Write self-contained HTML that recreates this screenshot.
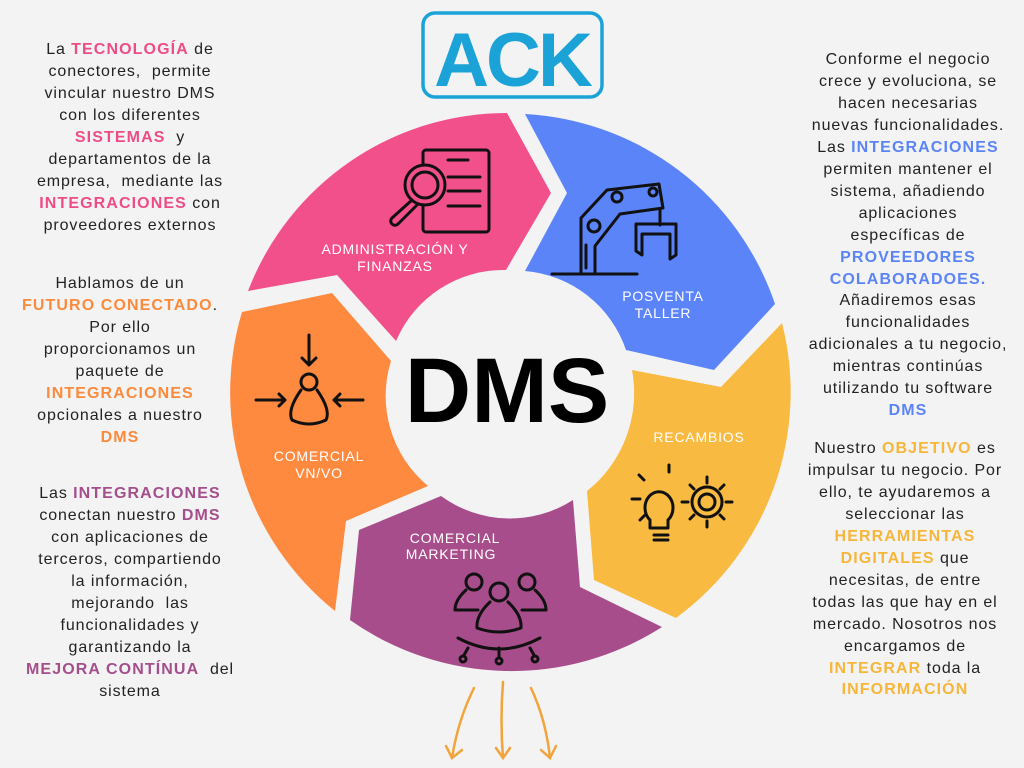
<!DOCTYPE html>
<html><head><meta charset="utf-8"><style>
html,body{margin:0;padding:0;background:#f3f3f3;}
body{width:1024px;height:768px;position:relative;overflow:hidden;font-family:"Liberation Sans",sans-serif;}
.t{position:absolute;text-align:center;font-size:16px;letter-spacing:0.9px;line-height:21.95px;color:#222;white-space:nowrap;}
.t b{letter-spacing:1.1px;}
.pk{color:#ec4d86}.or{color:#fa8a3c}.pu{color:#a44e8c}.bl{color:#5b84f5}.ye{color:#f5b63a}
svg{position:absolute;left:0;top:0;}
</style></head><body>
<svg width="1024" height="768" viewBox="0 0 1024 768">
<g>
<path d="M248,291 A277,277 0 0 1 507,113 L551,193 L506,270 A117,117 0 0 0 396,341 L337,275 Z" fill="#f2508a"/>
<path d="M525,114 A280,280 0 0 1 775,304 L714,370 L626,350 A117,117 0 0 0 525,271 L567,193 Z" fill="#5c84f9"/>
<path d="M721,387 L782,323 A280,280 0 0 1 676,618 L594,580 L587,491 A125,125 0 0 0 632,370 Z" fill="#f8ba40"/>
<path d="M359,530 L441,496 A117,117 0 0 0 573,500 L580,587 L662,627 A280,280 0 0 1 350,620 Z" fill="#a84d8b"/>
<path d="M242,312 L332,293 L391,361 A117,117 0 0 0 428,486 L346,521 L335,611 A280,280 0 0 1 242,312 Z" fill="#fd8a3e"/>
</g>
<text x="507" y="422" text-anchor="middle" font-family="Liberation Sans" font-weight="bold" font-size="92" fill="#000">DMS</text>
<g fill="#fff" font-family="Liberation Sans" font-size="14" text-anchor="middle" letter-spacing="0.8">
<text x="395" y="254">ADMINISTRACIÓN Y</text><text x="395" y="271">FINANZAS</text>
<text x="663" y="301">POSVENTA</text><text x="663" y="318">TALLER</text>
<text x="699" y="442">RECAMBIOS</text>
<text x="319" y="461">COMERCIAL</text><text x="319" y="478">VN/VO</text>
<text x="455" y="543">COMERCIAL</text><text x="451" y="559">MARKETING</text>
</g>
<!-- logo -->
<rect x="423" y="13" width="179" height="84" rx="12" fill="none" stroke="#1ba3d8" stroke-width="3.5"/>
<text x="512" y="86" text-anchor="middle" font-family="Liberation Sans" font-weight="bold" font-size="76" fill="#1ba3d8" letter-spacing="-3">ACK</text>
<!-- icons -->
<g fill="none" stroke="#111" stroke-width="3" stroke-linecap="round" stroke-linejoin="round">
<rect x="423" y="150" width="66" height="82" rx="3"/>
<line x1="448" y1="160" x2="468" y2="160"/><line x1="448" y1="177" x2="480" y2="177"/><line x1="448" y1="191" x2="480" y2="191"/><line x1="448" y1="206" x2="480" y2="206"/>
<circle cx="425" cy="185" r="20" fill="#f2508a"/><circle cx="425" cy="185" r="13"/>
<path d="M412,200 L392,218 a4,4 0 0 0 6,6 L417,205"/>
<line x1="552" y1="274" x2="637" y2="274"/>
<path d="M581,273 V218 L607,190 L659,184 L663,208 L620,214 L595,246 V273"/>
<circle cx="594" cy="226" r="6"/><circle cx="617" cy="197" r="5"/><circle cx="653" cy="192" r="4"/>
<path d="M660,210 V225 M636,224 H676 V255 L670,259 V234 H642 V255 L636,251 Z"/>
<line x1="586" y1="245" x2="586" y2="268"/>
<circle cx="309" cy="382" r="8"/>
<path d="M301,390 Q287,410 292,420 Q309,428 326,420 Q331,410 317,390"/>
<path d="M309,335 V365 M302,358 L309,365 L316,358"/>
<path d="M256,400 H285 M279,394 L285,400 L279,406"/>
<path d="M363,400 H334 M340,394 L334,400 L340,406"/>
<path d="M668,520 a14,16 0 1 0 -18,0 v8 h18 Z"/>
<path d="M654,535 h14 M654,540 h14"/>
<path d="M669,472 v-7 M644,480 l-5,-5 M640,499 h-8 M645,515 l-5,5"/>
<circle cx="707" cy="502" r="15"/><circle cx="707" cy="502" r="8"/>
<path d="M707,483 v-6 M707,521 v6 M688,502 h-6 M726,502 h6 M694,489 l-4,-4 M720,515 l4,4 M720,489 l4,-4 M694,515 l-4,4"/>
<circle cx="474" cy="582" r="8"/><circle cx="527" cy="582" r="8"/><circle cx="499" cy="592" r="9"/>
<path d="M466,590 Q455,600 455,610 H478 M535,590 Q546,600 546,610 H522"/>
<path d="M490,602 Q476,615 477,628 Q499,636 521,628 Q522,615 508,602"/>
<path d="M458,638 Q499,660 540,638"/>
<path d="M468,648 L464,655 M499,648 V657 M530,648 L534,655"/>
<circle cx="463" cy="659" r="3"/><circle cx="499" cy="661" r="3"/><circle cx="535" cy="659" r="3"/>
</g>
<g fill="none" stroke="#f0a43a" stroke-width="2.5" stroke-linecap="round">
<path d="M474,688 Q458,720 452,758"/><path d="M446,746 L452,758 L462,750"/>
<path d="M503,682 Q500,720 503,758"/><path d="M496,748 L503,758 L510,748"/>
<path d="M531,688 Q546,720 550,758"/><path d="M541,750 L550,758 L556,746"/>
</g>
</svg>

<div class="t" style="left:10px;width:240px;top:39px;">
La <b class="pk">TECNOLOGÍA</b> de<br>conectores,&nbsp; permite<br>vincular nuestro DMS<br>con los diferentes<br><b class="pk">SISTEMAS</b>&nbsp; y<br>departamentos de la<br>empresa,&nbsp; mediante las<br><b class="pk">INTEGRACIONES</b> con<br>proveedores externos</div>

<div class="t" style="left:0px;width:240px;top:273px;">
Hablamos de un<br><b class="or">FUTURO CONECTADO</b>.<br>Por ello<br>proporcionamos un<br>paquete de<br><b class="or">INTEGRACIONES</b><br>opcionales a nuestro<br><b class="or">DMS</b></div>

<div class="t" style="left:0px;width:260px;top:483px;">
Las <b class="pu">INTEGRACIONES</b><br>conectan nuestro <b class="pu">DMS</b><br>con aplicaciones de<br>terceros, compartiendo<br>la información,<br>mejorando&nbsp; las<br>funcionalidades y<br>garantizando la<br><b class="pu">MEJORA CONTÍNUA</b>&nbsp; del<br>sistema</div>

<div class="t" style="left:788px;width:240px;top:49px;">
Conforme el negocio<br>crece y evoluciona, se<br>hacen necesarias<br>nuevas funcionalidades.<br>Las <b class="bl">INTEGRACIONES</b><br>permiten mantener el<br>sistema, añadiendo<br>aplicaciones<br>específicas de<br><b class="bl">PROVEEDORES</b><br><b class="bl">COLABORADOES.</b><br>Añadiremos esas<br>funcionalidades<br>adicionales a tu negocio,<br>mientras continúas<br>utilizando tu software<br><b class="bl">DMS</b></div>

<div class="t" style="left:785px;width:240px;top:438px;">
Nuestro <b class="ye">OBJETIVO</b> es<br>impulsar tu negocio. Por<br>ello, te ayudaremos a<br>seleccionar las<br><b class="ye">HERRAMIENTAS</b><br><b class="ye">DIGITALES</b> que<br>necesitas, de entre<br>todas las que hay en el<br>mercado. Nosotros nos<br>encargamos de<br><b class="ye">INTEGRAR</b> toda la<br><b class="ye">INFORMACIÓN</b></div>
</body></html>
